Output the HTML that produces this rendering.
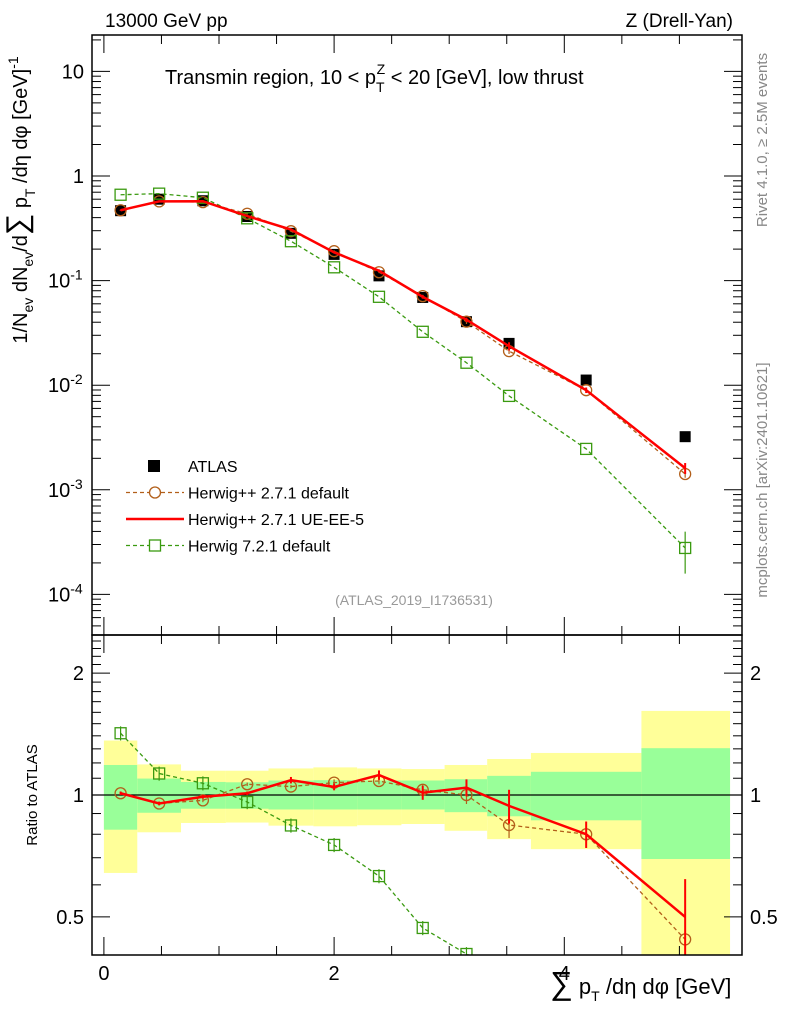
<!DOCTYPE html>
<html><head><meta charset="utf-8"><style>
html,body{margin:0;background:#fff;width:786px;height:1024px;overflow:hidden;}
svg{display:block;font-family:"Liberation Sans",sans-serif;}
</style></head><body>
<svg id="c" width="786" height="1024" viewBox="0 0 786 1024"></svg>
<script>
const edges=[0,0.29,0.67,1.06,1.43,1.82,2.2,2.585,2.96,3.33,3.71,4.67,5.44];
const centers=[0.145,0.48,0.86,1.245,1.625,2.0,2.39,2.77,3.15,3.52,4.19,5.05];
const atlas=[0.466,0.6,0.58,0.41,0.283,0.178,0.111,0.069,0.0405,0.0251,0.0112,0.00322];
const ratioRed=[1.01,0.953,0.99,1.01,1.088,1.047,1.12,1.013,1.043,0.94,0.80,0.50];
const errRed=[0.01,0.01,0.01,0.01,0.02,0.02,0.03,0.04,0.05,0.09,0.06,0.12];
const ratioBrown=[1.01,0.953,0.97,1.063,1.049,1.073,1.083,1.03,1.0,0.843,0.80,0.44];
const errBrown=[0.01,0.01,0.01,0.01,0.01,0.02,0.02,0.03,0.05,0.06,0.06,0.08];
const greenMain=[0.662,0.678,0.62,0.394,0.238,0.134,0.070,0.0324,0.0164,0.0079,0.00246,0.000278];
const errGreenMain=[0,0,0,0,0,0,0,0,0,0,0,0.00012];
const bandYUp=[1.363,1.19,1.148,1.148,1.163,1.17,1.163,1.159,1.186,1.227,1.27,1.613];
const bandYDn=[0.642,0.809,0.853,0.855,0.84,0.837,0.842,0.848,0.816,0.778,0.735,0.3];
const bandGUp=[1.186,1.098,1.077,1.075,1.086,1.088,1.086,1.086,1.094,1.115,1.141,1.305];
const bandGDn=[0.821,0.904,0.925,0.925,0.921,0.921,0.921,0.921,0.907,0.886,0.866,0.695];
const xTicks=[0,2,4];
const yDecades=[10,1,0.1,0.01,0.001,0.0001];
const yLabels=["10","1","10<sup>-1</sup>","10<sup>-2</sup>","10<sup>-3</sup>","10<sup>-4</sup>"];
const rTicks=[2,1,0.5];

const NS="http://www.w3.org/2000/svg";
const svg=document.getElementById('c');
function el(t,a,p){const e=document.createElementNS(NS,t);for(const k in a)e.setAttribute(k,a[k]);(p||svg).appendChild(e);return e;}
const L=92,R=742,T=35,M=635,B=955;
const X=v=>103.9+v*115.1;
const Y=v=>176-Math.log10(v)*104.6;
const RY=v=>Math.min(B+20,Math.max(M-20,795-Math.log10(Math.max(v,1e-3))*405));
const clipM=el('clipPath',{id:'cm'});el('rect',{x:L,y:T,width:R-L,height:M-T},clipM);
const clipR=el('clipPath',{id:'cr'});el('rect',{x:L,y:M,width:R-L,height:B-M},clipR);
const gM=el('g',{'clip-path':'url(#cm)'});
const gR=el('g',{'clip-path':'url(#cr)'});

for(let i=0;i<centers.length;i++){
 const y=el('rect',{x:X(edges[i]),y:RY(bandYUp[i]),width:X(edges[i+1])-X(edges[i]),height:RY(bandYDn[i])-RY(bandYUp[i]),fill:'#ffff99'},gR);
 
 const g=el('rect',{x:X(edges[i]),y:RY(bandGUp[i]),width:X(edges[i+1])-X(edges[i]),height:RY(bandGDn[i])-RY(bandGUp[i]),fill:'#99ff99'},gR);
 
}
el('line',{x1:L,x2:R,y1:795,y2:795,stroke:'#000','stroke-width':1.2},gR);

function series(g,xs,ys,opts){
 const pts=xs.map((x,i)=>X(x)+','+ys[i]).join(' ');
 const pl=el('polyline',{points:pts,fill:'none',stroke:opts.c,'stroke-width':opts.w,'stroke-dasharray':opts.d||''},g);
 
 xs.forEach((x,i)=>{
  const cx=X(x),cy=ys[i];
  if(opts.eu){el('line',{x1:cx,x2:cx,y1:opts.eu[i],y2:opts.ed[i],stroke:opts.c,'stroke-width':opts.w>2?2:1.2},g);}
  let m=null;
  if(opts.m==='o')m=el('circle',{cx,cy,r:5.5,fill:'none',stroke:opts.c,'stroke-width':1.3},g);
  if(opts.m==='s')m=el('rect',{x:cx-5.5,y:cy-5.5,width:11,height:11,fill:'none',stroke:opts.c,'stroke-width':1.3},g);
  if(opts.m==='f')m=el('rect',{x:cx-5.5,y:cy-5.5,width:11,height:11,fill:'#000'},g);
  if(m){}
 });
}
const redMain=atlas.map((a,i)=>a*ratioRed[i]);
const brownMain=atlas.map((a,i)=>a*ratioBrown[i]);
series(gM,centers,atlas.map(Y),{c:'#000',w:0,m:'f',name:'atlas'});
series(gM,centers,brownMain.map(Y),{c:'#b25f1a',w:1.3,d:'4,3',m:'o',name:'herwigpp-default',
 eu:brownMain.map((v,i)=>Y(v*(1+errBrown[i]))),ed:brownMain.map((v,i)=>Y(v*(1-errBrown[i])))});
series(gM,centers,greenMain.map(Y),{c:'#3a9a10',w:1.3,d:'4,3',m:'s',name:'herwig7-default',
 eu:greenMain.map((v,i)=>Y(v+errGreenMain[i])),ed:greenMain.map((v,i)=>Y(Math.max(v-errGreenMain[i],1e-6)))});
series(gM,centers,redMain.map(Y),{c:'#ff0000',w:2.5,name:'herwigpp-ue-ee-5',
 eu:redMain.map((v,i)=>Y(v*(1+errRed[i]))),ed:redMain.map((v,i)=>Y(v*(1-errRed[i])))});
series(gR,centers,ratioBrown.map(RY),{c:'#b25f1a',w:1.3,d:'4,3',m:'o',name:'ratio-herwigpp-default',
 eu:ratioBrown.map((v,i)=>RY(v+errBrown[i])),ed:ratioBrown.map((v,i)=>RY(v-errBrown[i]))});
const gr=greenMain.map((v,i)=>v/atlas[i]);
series(gR,centers,gr.map(RY),{c:'#3a9a10',w:1.3,d:'4,3',m:'s',name:'ratio-herwig7-default',
 eu:gr.map(v=>RY(v*1.04)),ed:gr.map(v=>RY(v*0.96))});
series(gR,centers,ratioRed.map(RY),{c:'#ff0000',w:2.5,name:'ratio-herwigpp-ue-ee-5',
 eu:ratioRed.map((v,i)=>RY(v+errRed[i])),ed:ratioRed.map((v,i)=>RY(v-errRed[i]))});

el('rect',{x:L,y:T,width:R-L,height:M-T,fill:'none',stroke:'#000','stroke-width':1.5});
el('rect',{x:L,y:M,width:R-L,height:B-M,fill:'none',stroke:'#000','stroke-width':1.5});
for(let d=-5;d<=1;d++){for(let k=1;k<10;k++){const v=k*Math.pow(10,d);const y=Y(v);if(y<T||y>M)continue;const len=k===1?18:9;
 el('line',{x1:L,x2:L+len,y1:y,y2:y,stroke:'#000','stroke-width':1});el('line',{x1:R-len,x2:R,y1:y,y2:y,stroke:'#000','stroke-width':1});}}
for(let v=0.4;v<=2.5;v+=0.1){const y=795-Math.log10(v)*405;if(y<M||y>B)continue;const major=Math.abs(v-1)<0.01||Math.abs(v-2)<0.01||Math.abs(v-0.5)<0.01;const len=major?18:9;
 el('line',{x1:L,x2:L+len,y1:y,y2:y,stroke:'#000'});el('line',{x1:R-len,x2:R,y1:y,y2:y,stroke:'#000'});}
for(let v=0;v<=5.4;v+=0.5){const x=X(v);const major=Math.abs(v-Math.round(v/2)*2)<0.01;const len=major?18:9;
 el('line',{x1:x,x2:x,y1:M,y2:M+len,stroke:'#000'});el('line',{x1:x,x2:x,y1:B-len,y2:B,stroke:'#000'});
 el('line',{x1:x,x2:x,y1:T,y2:T+len,stroke:'#000'});el('line',{x1:x,x2:x,y1:M-len,y2:M,stroke:'#000'});}
function txt(s,a,name){const t=el('text',a);t.innerHTML=s;return t;}
yDecades.forEach((v,i)=>{const t=txt(yLabels[i].replace(/<sup>(.*)<\/sup>/,'<tspan dy="-8" font-size="14">$1</tspan>'),{x:84,y:Y(v)+7,'font-size':20,'text-anchor':'end'},'y-tick-label');
 if(i>=2){t.setAttribute('text-anchor','start');t.setAttribute('x',48);}});
rTicks.forEach(v=>{txt(String(v),{x:84,y:RY(v)+7,'font-size':20,'text-anchor':'end'},'ratio-tick-label');txt(String(v),{x:750,y:RY(v)+7,'font-size':20},'ratio-tick-label-right');});
xTicks.forEach(v=>txt(String(v),{x:X(v),y:980,'font-size':20,'text-anchor':'middle'},'x-tick-label'));

txt('13000 GeV pp',{x:105,y:27,'font-size':19},'top-left-label');
txt('Z (Drell-Yan)',{x:733,y:27,'font-size':19,'text-anchor':'end'},'top-right-label');
txt('Transmin region, 10 &lt; p<tspan dy="8" font-size="14">T</tspan><tspan dy="-18" font-size="14" dx="-8">Z</tspan><tspan dy="10"> &lt; 20 [GeV], low thrust</tspan>',{x:165,y:84,'font-size':20},'plot-title');
txt('(ATLAS_2019_I1736531)',{x:414,y:605,'font-size':14,fill:'#999','text-anchor':'middle'},'analysis-id');
txt('Rivet 4.1.0, ≥ 2.5M events',{x:0,y:0,'font-size':15,fill:'#888','text-anchor':'middle',transform:'translate(767,140) rotate(-90)'},'rivet-label');
txt('mcplots.cern.ch [arXiv:2401.10621]',{x:0,y:0,'font-size':15,fill:'#888','text-anchor':'middle',transform:'translate(767,480) rotate(-90)'},'mcplots-label');
txt('1/N<tspan dy="6" font-size="14">ev</tspan><tspan dy="-6"> dN</tspan><tspan dy="6" font-size="14">ev</tspan><tspan dy="-6">/d</tspan><tspan font-size="30">∑</tspan><tspan> p</tspan><tspan dy="8" font-size="14">T</tspan><tspan dy="-8"> /dη dφ  [GeV]</tspan><tspan dy="-9" font-size="14">-1</tspan>',
 {x:0,y:0,'font-size':20,'text-anchor':'middle',transform:'translate(27,200) rotate(-90)'},'y-axis-title');
txt('Ratio to ATLAS',{x:0,y:0,'font-size':15,'text-anchor':'middle',transform:'translate(37,795) rotate(-90)'},'ratio-axis-title');
txt('<tspan font-size="32">∑</tspan> p<tspan dy="7" font-size="14">T</tspan><tspan dy="-7"> /dη dφ [GeV]</tspan>',{x:550,y:994,'font-size':22},'x-axis-title');

const lg=el('g',{});
const le=[['ATLAS','f','#000',0],['Herwig++ 2.7.1 default','o','#b25f1a',1.3],['Herwig++ 2.7.1 UE-EE-5','l','#ff0000',2.5],['Herwig 7.2.1 default','s','#3a9a10',1.3]];
le.forEach((e,i)=>{const y=466+i*26.5;
 if(e[1]!=='f')el('line',{x1:126,x2:184,y1:y,y2:y,stroke:e[2],'stroke-width':e[3],'stroke-dasharray':e[1]==='l'?'':'4,3'},lg);
 if(e[1]==='f')el('rect',{x:148,y:y-6,width:12,height:12,fill:'#000'},lg);
 if(e[1]==='o')el('circle',{cx:155,cy:y,r:5.5,fill:'#fff',stroke:e[2],'stroke-width':1.3},lg);
 if(e[1]==='s')el('rect',{x:149.5,y:y-5.5,width:11,height:11,fill:'#fff',stroke:e[2],'stroke-width':1.3},lg);
 const t=el('text',{x:188,y:y+6,'font-size':16},lg);t.textContent=e[0];
 
});
</script>
</body></html>
